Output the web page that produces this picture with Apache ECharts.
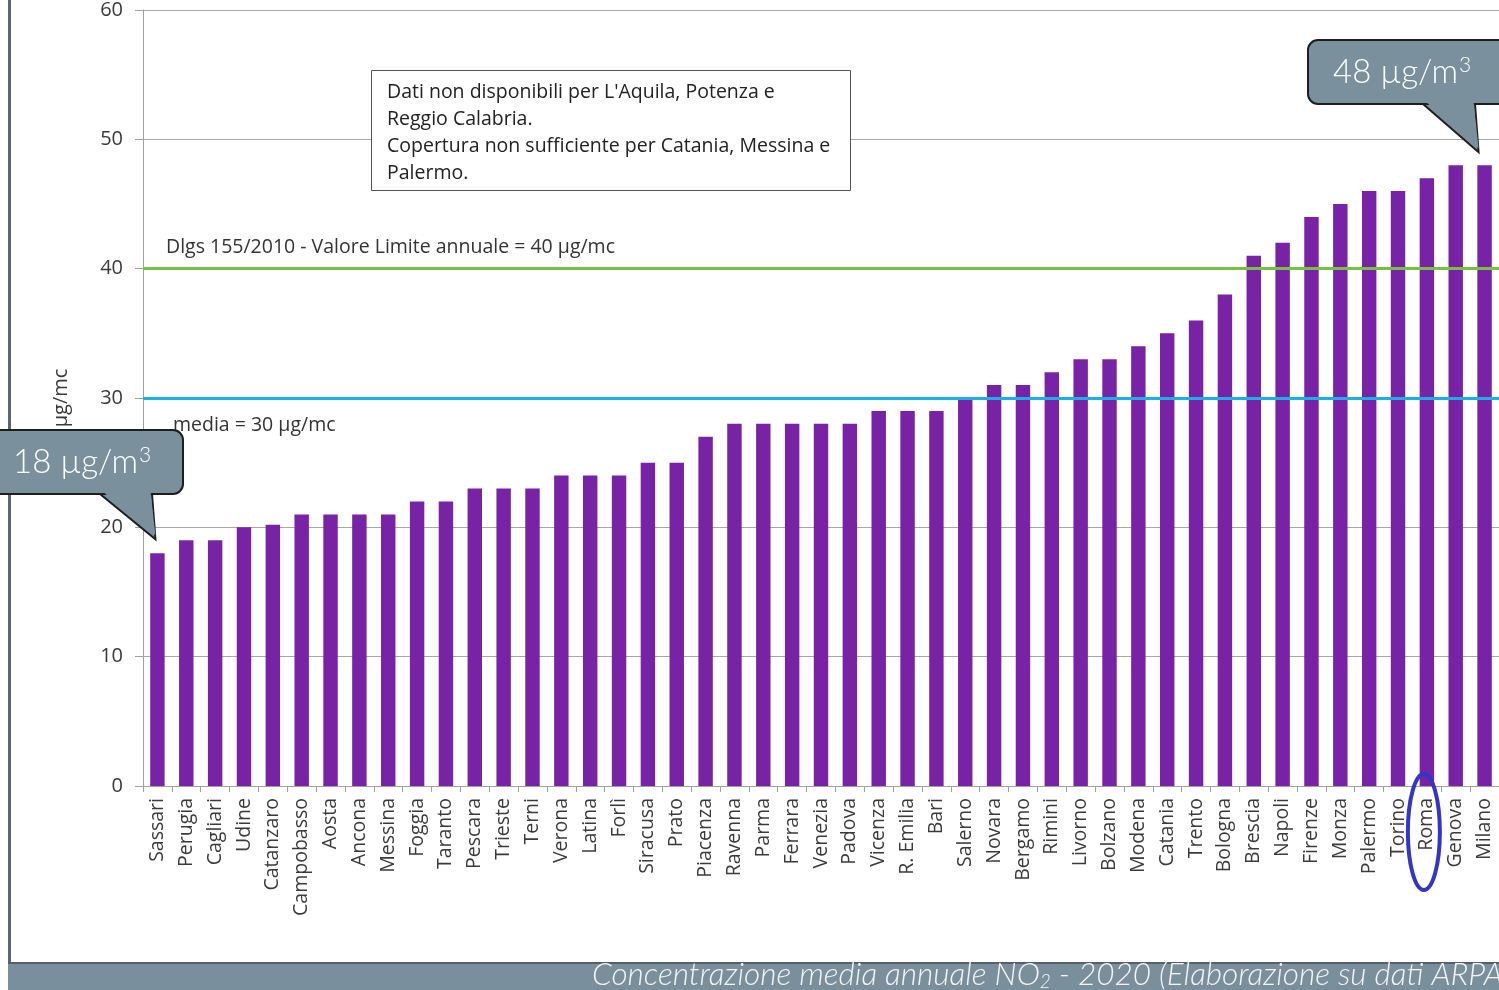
<!DOCTYPE html>
<html>
<head>
<meta charset="utf-8">
<script src="https://cdn.jsdelivr.net/npm/echarts@6/dist/echarts.min.js"></script>
<style>
html,body{margin:0;padding:0;background:#fff;}
#c{width:1499px;height:990px;}
</style>
</head>
<body>
<div id="c"></div>
<script>
const cities = ["Sassari","Perugia","Cagliari","Udine","Catanzaro","Campobasso","Aosta","Ancona","Messina","Foggia","Taranto","Pescara","Trieste","Terni","Verona","Latina","Forlì","Siracusa","Prato","Piacenza","Ravenna","Parma","Ferrara","Venezia","Padova","Vicenza","R. Emilia","Bari","Salerno","Novara","Bergamo","Rimini","Livorno","Bolzano","Modena","Catania","Trento","Bologna","Brescia","Napoli","Firenze","Monza","Palermo","Torino","Roma","Genova","Milano"];
const no2Values = [18,19,19,20,20.2,21,21,21,21,22,22,23,23,23,24,24,24,25,25,27,28,28,28,28,28,29,29,29,30,31,31,32,33,33,34,35,36,38,41,42,44,45,46,46,47,48,48];
const yTicks = {min:0, max:60, interval:10};
const limitValue = 40;
const meanValue = 30;
const limitLabel = "Dlgs 155/2010 - Valore Limite annuale = 40 µg/mc";
const meanLabel = "media = 30 µg/mc";
const noteLines = ["Dati non disponibili per L'Aquila, Potenza e","Reggio Calabria.","Copertura non sufficiente per Catania, Messina e","Palermo."];
const minCallout = ["18 µg/m", "3"];
const maxCallout = ["48 µg/m", "3"];

const chart = echarts.init(document.getElementById('c'), null, {renderer:'canvas'});
const FONT = "'Open Sans', 'Noto Sans', sans-serif";

chart.setOption({
  animation:false,
  backgroundColor:'#ffffff',
  grid:{left:143, right:0, top:10, bottom:204, containLabel:false},
  xAxis:{
    type:'category', data:cities,
    axisLine:{lineStyle:{color:'#a0a0a0', width:1}},
    axisTick:{show:true, alignWithLabel:false, length:6, lineStyle:{color:'#a0a0a0'}},
    axisLabel:{rotate:90, interval:0, fontSize:19.5, color:'#3a3a3a', fontFamily:FONT, margin:12}
  },
  yAxis:{
    type:'value', min:yTicks.min, max:yTicks.max, interval:yTicks.interval,
    name:'µg/mc', nameLocation:'middle', nameGap:72, nameRotate:90,
    nameTextStyle:{fontSize:20, color:'#3a3a3a', fontFamily:FONT},
    axisLine:{show:true, lineStyle:{color:'#a0a0a0'}},
    axisTick:{show:true, length:8, lineStyle:{color:'#a0a0a0'}},
    axisLabel:{fontSize:20, color:'#3a3a3a', fontFamily:FONT, margin:20},
    splitLine:{lineStyle:{color:'#a8a8a8', width:1}}
  },
  series:[{
    type:'bar', data:no2Values, barWidth:'50%',
    itemStyle:{color:'#7823a6'},
    markLine:{
      symbol:['none','none'], silent:true,
      data:[
        {yAxis:limitValue, lineStyle:{color:'#77c142', width:3, type:'solid'},
         label:{show:true, formatter:limitLabel, position:'insideStartTop', distance:[23,11], fontSize:19.5, color:'#333', fontFamily:FONT}},
        {yAxis:meanValue, lineStyle:{color:'#1aafe6', width:3, type:'solid'},
         label:{show:true, formatter:meanLabel, position:'insideStartBottom', distance:[30,17], fontSize:19.5, color:'#333', fontFamily:FONT}}
      ]
    }
  }]
});

const minTip = chart.convertToPixel({seriesIndex:0}, [0, no2Values[0]]);
const maxTip = chart.convertToPixel({seriesIndex:0}, [cities.length-1, no2Values[no2Values.length-1]]);
const romaPx = chart.convertToPixel({xAxisIndex:0}, 'Roma');
const calloutFill = '#7b909d';
const CALLFONT = "'Lato', 'Noto Sans', sans-serif";

function callout(x, y, w, h, tipX, tipY, baseL, baseR, parts, textX){
  const b = y + h;
  return [
    {type:'rect', shape:{x:x, y:y, width:w, height:h, r:10}, style:{fill:calloutFill, stroke:'#1e1e1e', lineWidth:2}, z:100},
    {type:'polygon', shape:{points:[[baseL,b],[tipX,tipY],[baseR,b]]}, style:{fill:calloutFill, stroke:'#1e1e1e', lineWidth:2}, z:101},
    {type:'polygon', shape:{points:[[baseL+2,b-3],[tipX,tipY-4],[baseR-1.5,b-3]]}, style:{fill:calloutFill}, z:102},
    {type:'text', x:textX, y:y+h/2, style:{
      text:'{a|'+parts[0]+'}{s|'+parts[1]+'}', textVerticalAlign:'middle',
      rich:{
        a:{fill:'#ffffff', fontSize:33, fontWeight:300, fontFamily:CALLFONT},
        s:{fill:'#ffffff', fontSize:21, fontWeight:300, fontFamily:CALLFONT, padding:[0,0,14,1]}
      }
    }, z:103}
  ];
}

const gfx = [];
gfx.push({type:'rect', shape:{x:8, y:0, width:3, height:964}, style:{fill:'#5c6670'}, z:90});
gfx.push({type:'rect', shape:{x:371.5, y:70.5, width:479, height:120}, style:{fill:'#fff', stroke:'#555', lineWidth:1}, z:95});
noteLines.forEach((t,i)=>{
  gfx.push({type:'text', x:387, y:92+i*27.3, style:{text:t, fill:'#222', font:"19.5px 'Open Sans', sans-serif", textVerticalAlign:'middle'}, z:96});
});
callout(-10, 430, 193, 64, minTip[0]-2, minTip[1]-14, 100, 152, minCallout, 13).forEach(e=>gfx.push(e));
callout(1308, 40, 220, 64, maxTip[0]-6, maxTip[1]-13, 1423, 1475, maxCallout, 1333).forEach(e=>gfx.push(e));
gfx.push({type:'ellipse', shape:{cx:romaPx-3, cy:832, rx:16, ry:58}, style:{fill:null, stroke:'#3434c6', lineWidth:4}, z:100});
gfx.push({type:'rect', shape:{x:8, y:963, width:1491, height:27}, style:{fill:'#7a8f9c'}, z:90});
gfx.push({type:'rect', shape:{x:8, y:962, width:1491, height:2}, style:{fill:'#55606a'}, z:91});
gfx.push({type:'text', x:592, y:975, style:{
  text:'{a|Concentrazione media annuale NO}{s|2}{a| - 2020 (Elaborazione su dati ARPA)}',
  textVerticalAlign:'middle',
  rich:{
    a:{fill:'#f4f4f4', fontSize:31.5, fontStyle:'italic', fontWeight:300, fontFamily:CALLFONT},
    s:{fill:'#f4f4f4', fontSize:19, fontStyle:'italic', fontWeight:300, fontFamily:CALLFONT, padding:[14,0,0,0]}
  }
}, z:92});

chart.setOption({graphic:{elements:gfx}});
</script>
</body>
</html>
